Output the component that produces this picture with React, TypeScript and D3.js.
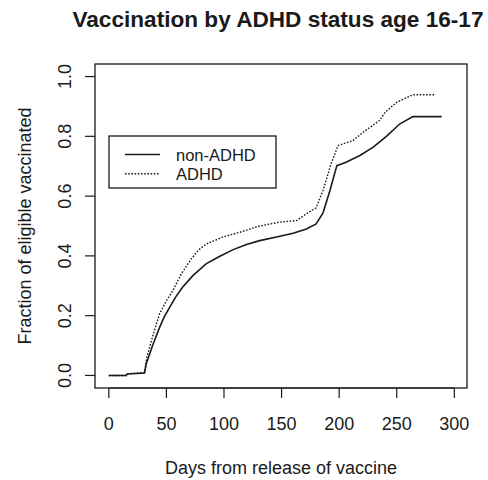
import * as d3 from "d3";

// days since release vs. fraction vaccinated
const nonAdhdDays = [0, 15, 16, 31, 32.5, 38, 44, 48, 52.8, 58, 64, 73, 84.7, 96, 108, 119.5, 131, 145.6, 160, 171.6, 180, 186, 192, 198, 206, 218, 229.6, 241, 252.8, 264, 289];
const nonAdhdFrac = [0, 0, 0.005, 0.008, 0.039, 0.1, 0.16, 0.195, 0.228, 0.262, 0.295, 0.334, 0.374, 0.398, 0.421, 0.438, 0.451, 0.463, 0.476, 0.49, 0.507, 0.544, 0.619, 0.702, 0.713, 0.736, 0.764, 0.8, 0.842, 0.866, 0.866];

const adhdDays = [0, 15, 16, 31, 33, 38, 44, 50, 55.6, 63, 71.6, 78, 84.7, 99, 113.6, 131, 148.4, 163, 171.6, 180, 186, 193, 199, 212, 221, 235, 240, 250, 264, 284];
const adhdFrac = [0, 0, 0.005, 0.01, 0.061, 0.13, 0.206, 0.25, 0.284, 0.34, 0.39, 0.42, 0.44, 0.463, 0.479, 0.5, 0.513, 0.518, 0.541, 0.561, 0.619, 0.708, 0.769, 0.786, 0.814, 0.853, 0.881, 0.914, 0.939, 0.939];

const xTicks = [0, 50, 100, 150, 200, 250, 300];
const yTicks = [0, 0.2, 0.4, 0.6, 0.8, 1.0];
const legendLabels = ["non-ADHD", "ADHD"];

const W = 488;
const H = 480;
const FONT = "'Liberation Sans', Arial, sans-serif";
const INK = "#1a1a1a";

export default function App() {
  const x = d3.scaleLinear().domain([-12, 311]).range([95, 467]);
  const y = d3.scaleLinear().domain([-0.042, 1.042]).range([388, 64]);

  const line = d3
    .line<[number, number]>()
    .x((d) => x(d[0]))
    .y((d) => y(d[1]));

  const nonAdhd = nonAdhdDays.map((d, i) => [d, nonAdhdFrac[i]] as [number, number]);
  const adhd = adhdDays.map((d, i) => [d, adhdFrac[i]] as [number, number]);

  const [x0, x1] = x.range();
  const [y0, y1] = y.range();
  const midX = (x0 + x1) / 2;
  const midY = (y0 + y1) / 2;

  return (
    <svg
      width={W}
      height={H}
      style={{ position: "absolute", left: 0, top: 0, background: "#fff" }}
      fontFamily={FONT}
      fill={INK}
    >
      <text x={midX - 3} y={27} fontSize={22.6} fontWeight="bold" textAnchor="middle">
        Vaccination by ADHD status age 16-17
      </text>

      <rect x={x0} y={y1} width={x1 - x0} height={y0 - y1} fill="none" stroke={INK} strokeWidth={1.3} />

      {/* x axis */}
      <line x1={x(0)} x2={x(300)} y1={y0} y2={y0} stroke={INK} strokeWidth={1.2} />
      {xTicks.map((t) => (
        <g key={t}>
          <line x1={x(t)} x2={x(t)} y1={y0} y2={y0 + 10} stroke={INK} strokeWidth={1.2} />
          <text x={x(t)} y={430} fontSize={18} textAnchor="middle">
            {t}
          </text>
        </g>
      ))}
      <text x={midX} y={474} fontSize={18} textAnchor="middle">
        Days from release of vaccine
      </text>

      {/* y axis */}
      {yTicks.map((t) => (
        <g key={t}>
          <line x1={x0} x2={x0 - 10} y1={y(t)} y2={y(t)} stroke={INK} strokeWidth={1.2} />
          <text
            x={71}
            y={y(t)}
            fontSize={18}
            textAnchor="middle"
            transform={`rotate(-90, 71, ${y(t)})`}
          >
            {t.toFixed(1)}
          </text>
        </g>
      ))}
      <text x={31} y={midY} fontSize={18} textAnchor="middle" transform={`rotate(-90, 31, ${midY})`}>
        Fraction of eligible vaccinated
      </text>

      {/* curves */}
      <path d={line(nonAdhd) ?? ""} fill="none" stroke={INK} strokeWidth={1.6} />
      <path d={line(adhd) ?? ""} fill="none" stroke={INK} strokeWidth={1.4} strokeDasharray="1.6,1.6" />

      {/* legend */}
      <rect x={109} y={136} width={167} height={52} fill="#fff" stroke={INK} strokeWidth={1.3} />
      {legendLabels.map((lab, i) => (
        <g key={lab}>
          <line
            x1={125}
            x2={160}
            y1={154.5 + i * 19.2}
            y2={154.5 + i * 19.2}
            stroke={INK}
            strokeWidth={i === 0 ? 1.6 : 1.4}
            strokeDasharray={i === 0 ? undefined : "1.6,1.6"}
          />
          <text x={176} y={160.5 + i * 19.2} fontSize={16.5}>
            {lab}
          </text>
        </g>
      ))}
    </svg>
  );
}
